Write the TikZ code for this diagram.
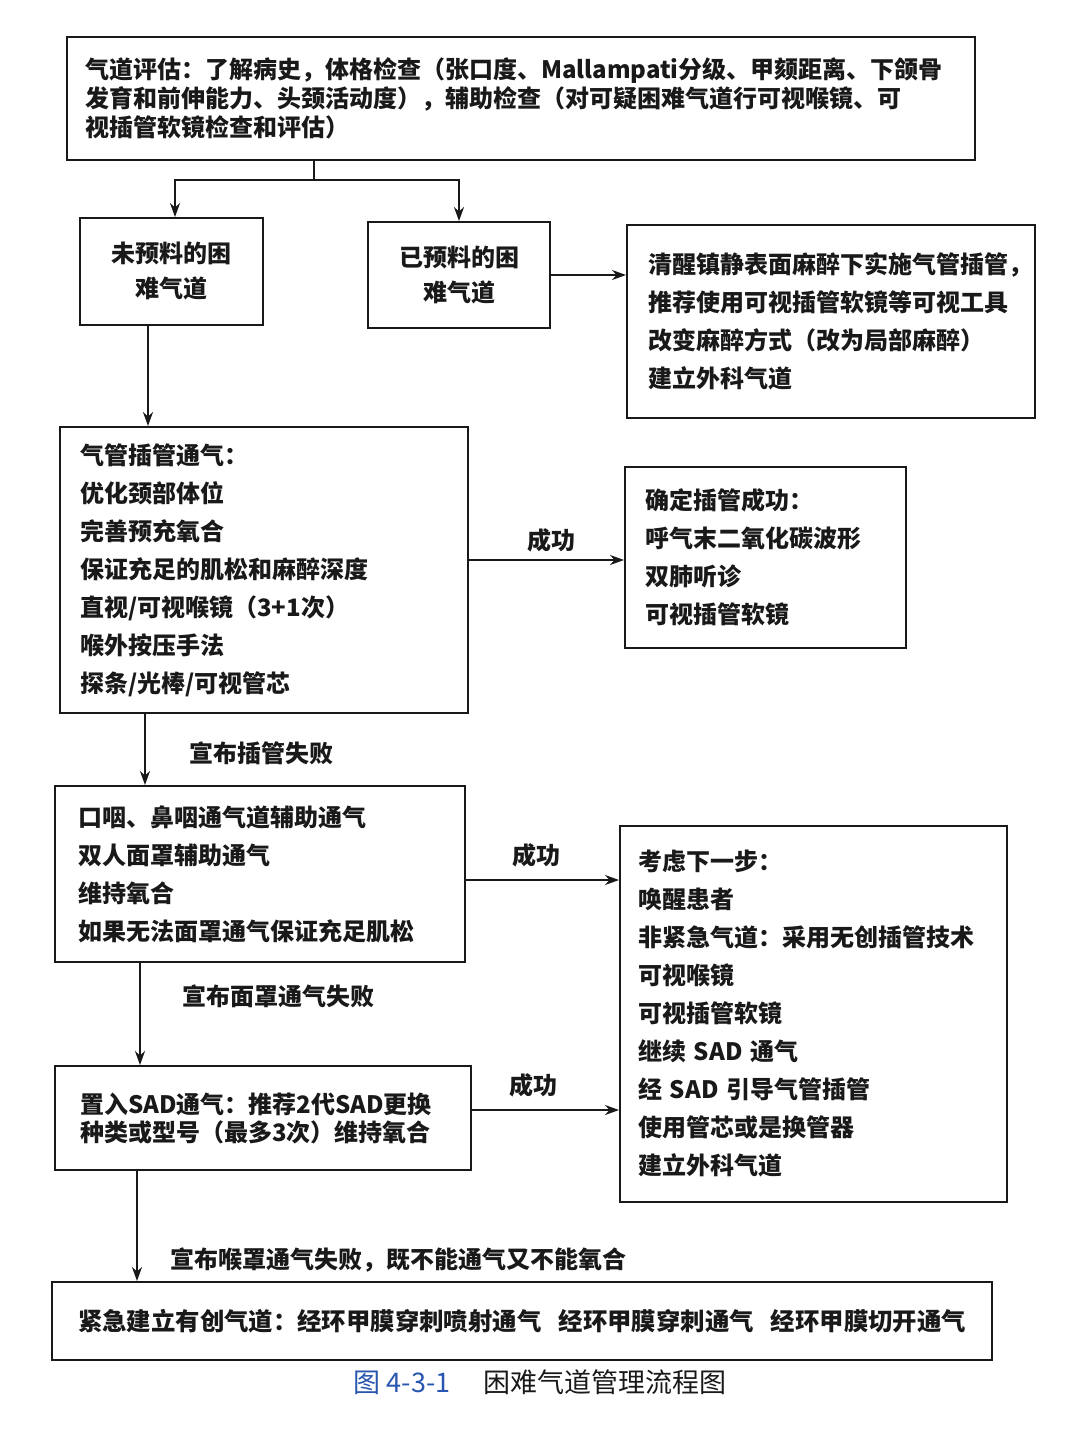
\documentclass[tikz,border=0pt]{standalone}
\usepackage{fontspec}
\setmainfont{Noto Sans CJK SC}
\usetikzlibrary{arrows.meta}
\definecolor{ink}{RGB}{25,25,25}
\definecolor{capblue}{RGB}{40,85,175}
\begin{document}
\begin{tikzpicture}[x=0.5pt,y=-0.5pt,
  every node/.style={text=ink,font=\bfseries\fontsize{12pt}{19pt}\selectfont},
  box/.style={draw=ink,line width=1pt,rectangle,inner ysep=0pt,align=left},
  cbox/.style={draw=ink,line width=1pt,rectangle,inner sep=0pt,align=center,font=\bfseries\fontsize{12pt}{17.5pt}\selectfont},
  arr/.style={draw=ink,line width=1pt,-{Stealth[length=7pt,width=5pt]}},
  ln/.style={draw=ink,line width=1pt},
  lab/.style={inner sep=0pt}]
\useasboundingbox[fill=white] (0,0) rectangle (1080,1447);

% boxes
\node[box,minimum width=454pt,minimum height=61.5pt,inner xsep=9pt,text width=436pt,
  font=\bfseries\fontsize{12pt}{14.5pt}\selectfont] (top) at (521,98.5)
  {气道评估：了解病史，体格检查（张口度、Mallampati分级、甲颏距离、下颌骨\\
   发育和前伸能力、头颈活动度），辅助检查（对可疑困难气道行可视喉镜、可\\
   视插管软镜检查和评估）};

\node[cbox,minimum width=91.5pt,minimum height=53.5pt] (b2) at (171.5,271.5) {未预料的困\\难气道};
\node[cbox,minimum width=91pt,minimum height=53pt] (b3) at (459,275) {已预料的困\\难气道};

\node[box,minimum width=204pt,minimum height=96.5pt,inner xsep=10.5pt,text width=183pt] (b4) at (831,321.5)
  {清醒镇静表面麻醉下实施气管插管，\\推荐使用可视插管软镜等可视工具\\改变麻醉方式（改为局部麻醉）\\建立外科气道\\[-9pt]};

\node[box,minimum width=204pt,minimum height=143pt,inner xsep=10pt,text width=184pt] (b5) at (264,570)
  {气管插管通气：\\优化颈部体位\\完善预充氧合\\保证充足的肌松和麻醉深度\\直视/可视喉镜（3+1次）\\喉外按压手法\\探条/光棒/可视管芯};

\node[box,minimum width=140.5pt,minimum height=90.5pt,inner xsep=10pt,text width=120.5pt] (b6) at (765.5,557.5)
  {确定插管成功：\\呼气末二氧化碳波形\\双肺听诊\\可视插管软镜};

\node[box,minimum width=205pt,minimum height=88pt,inner xsep=11.5pt,text width=182pt] (b7) at (260,874)
  {口咽、鼻咽通气道辅助通气\\双人面罩辅助通气\\维持氧合\\如果无法面罩通气保证充足肌松};

\node[box,minimum width=193.5pt,minimum height=188pt,inner xsep=9pt,text width=175.5pt] (b8) at (813.5,1014)
  {考虑下一步：\\唤醒患者\\非紧急气道：采用无创插管技术\\可视喉镜\\可视插管软镜\\继续 SAD 通气\\经 SAD 引导气管插管\\使用管芯或是换管器\\建立外科气道};

\node[box,minimum width=208pt,minimum height=52pt,inner xsep=12.5pt,text width=183pt,
  font=\bfseries\fontsize{12pt}{14pt}\selectfont] (b9) at (263,1118)
  {置入SAD通气：推荐2代SAD更换\\种类或型号（最多3次）维持氧合};

\node[box,minimum width=470pt,minimum height=39pt,inner xsep=13pt,text width=444pt,
  font=\bfseries\fontsize{12.2pt}{15pt}\selectfont] (b10) at (522,1321)
  {\mbox{紧急建立有创气道：经环甲膜穿刺喷射通气\hspace{0.7em}经环甲膜穿刺通气\hspace{0.7em}经环甲膜切开通气}};

% caption
\node[lab,font=\mdseries\fontsize{13.5pt}{16pt}\selectfont] (cap) at (540,1382)
  {\textcolor{capblue}{图 4-3-1}\hspace{1.2em}困难气道管理流程图};

% connectors
\coordinate (j1) at (314,180);
\draw[ln] (top.south -| j1) -- (j1);
\draw[arr] (j1) -| ([xshift=1.75pt]b2.north);
\draw[arr] (j1) -| (b3.north);
\draw[arr] (b3.east) -- (b3.east -| b4.west);
\draw[arr] (b2.south -| 148,0) -- (b5.north -| 148,0);

\draw[arr] (b5.east |- 0,560) -- (b6.west |- 0,560);
\node[lab] (s1) at (551,540) {成功};

\draw[arr] (b5.south -| 145,0) -- (b7.north -| 145,0);
\node[lab] (f1) at (261,753) {宣布插管失败};

\draw[arr] (b7.east |- 0,880) -- (b8.west |- 0,880);
\node[lab] (s2) at (536,855) {成功};

\draw[arr] (b7.south -| 140,0) -- (b9.north -| 140,0);
\node[lab] (f2) at (278,996) {宣布面罩通气失败};

\draw[arr] (b9.east |- 0,1110) -- (b8.west |- 0,1110);
\node[lab] (s3) at (533,1085) {成功};

\draw[arr] (b9.south -| 137,0) -- (b10.north -| 137,0);
\node[lab] (f3) at (398,1260) {宣布喉罩通气失败，既不能通气又不能氧合};
\end{tikzpicture}
\end{document}
